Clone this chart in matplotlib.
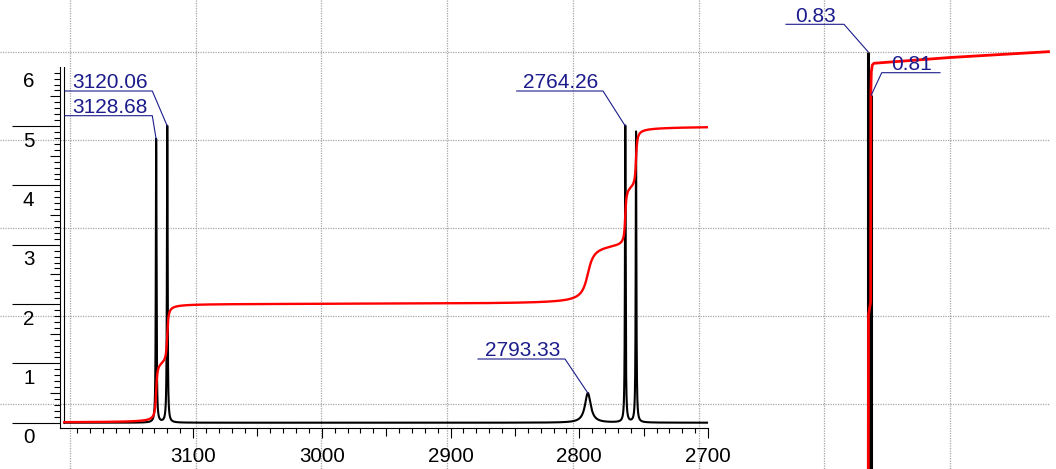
import matplotlib
matplotlib.use("Agg")
import matplotlib.pyplot as plt
import numpy as np
from matplotlib.lines import Line2D
from matplotlib.ticker import FixedLocator, FixedFormatter, NullFormatter
from matplotlib import transforms

plt.rcParams["font.family"] = ["Liberation Sans", "DejaVu Sans"]

# ---- spectrum peaks (wavenumber, height, half width) ----
peak_pos = [3128.68, 3120.06, 2793.33, 2764.26, 2755.9]
peak_height = [4.78, 5.0, 0.5, 5.0, 4.9]
peak_hwhm = [0.3, 0.3, 2.7, 0.3, 0.3]

# ---- integral (red) steps per peak ----
int_step = [1.0, 1.0, 1.0, 1.0, 1.0]
int_width = [0.7, 0.7, 3.5, 0.7, 0.7]

# ---- labelled peaks ----
ann_text = ["3120.06", "3128.68", "2764.26", "2793.33"]
ann_peak = [1, 0, 3, 2]

# ---- right fragment (ppm) ----
right_peak_ppm = [0.83, 0.81]
right_peak_top = [6.252, 5.522]
right_int_ppm = [0.8282, 0.8270, 0.8142, 0.8130, 0.8100, 0.8039, 0.7936, 0.3330, -0.2639]
right_int_val = [-0.965, 1.815, 2.034, 5.523, 5.910, 6.028, 6.057, 6.154, 6.252]
right_ann_text = ["0.83", "0.81"]

x_major = [3100, 3050, 3000, 2950, 2900, 2850, 2800, 2750, 2700]
x_labels = ["3100", "", "3000", "", "2900", "", "2800", "", "2700"]
y_labels = ["0", "1", "2", "3", "4", "5", "6"]

NAVY = "#1c1c8c"
GRID = "#a6a6a6"
W, H = 1056, 469

fig = plt.figure(figsize=(W / 100, H / 100), dpi=100)


def fx(x):
    return x / W


def fy(y):
    return 1 - y / H


# background dotted grid over the whole picture
bg = fig.add_axes([0, 0, 1, 1])
bg.set_xlim(0, W)
bg.set_ylim(H, 0)
bg.axis("off")
grid_x = 70 + 125.7 * np.arange(8)
grid_y = 52 + 88.1 * np.arange(5)
bg.vlines(grid_x, 0, H, colors=GRID, lw=0.9, linestyles=(0, (1, 1)))
bg.hlines(grid_y, 0, 1049, colors=GRID, lw=0.9, linestyles=(0, (1, 1)))

# main spectrum axes
ax = fig.add_axes([fx(59.7), fy(428), fx(708) - fx(59.7), (428 - 66.7) / H])
ax.set_facecolor("none")
ax.set_xlim(3203.6, 2700)
ax.set_ylim(-0.089, 6.0)
for s in ("top", "right"):
    ax.spines[s].set_visible(False)
for s in ("left", "bottom"):
    ax.spines[s].set_linewidth(0.8)

x = np.linspace(3200, 2700, 50001)
spec = np.zeros_like(x)
integ = np.zeros_like(x)
for p, h, w, st, iw in zip(peak_pos, peak_height, peak_hwhm, int_step, int_width):
    spec += h * w ** 2 / ((x - p) ** 2 + w ** 2)
    integ += st * (0.5 + np.arctan((p - x) / iw) / np.pi)

ax.plot([3200, 3200], [0, 6.0], color="black", lw=0.8)
ax.plot(x, spec, color="black", lw=1.5)
ax.plot(x, integ, color="#ff0000", lw=1.7)

# x ticks
ax.xaxis.set_major_locator(FixedLocator(x_major))
ax.xaxis.set_major_formatter(FixedFormatter(x_labels))
ax.xaxis.set_minor_locator(FixedLocator(np.arange(2710, 3200, 10)))
ax.tick_params(axis="x", which="major", length=7.5, width=0.8, labelsize=14.8, pad=6)
ax.tick_params(axis="x", which="minor", length=3.6, width=0.8)
for t, v in zip(ax.xaxis.get_major_ticks(), x_major):
    if v % 100:
        t.tick1line.set_markersize(5.5)

# y ticks (labels drawn by hand, they sit below their tick)
y_major = np.arange(0, 6.0, 0.5)
ax.yaxis.set_major_locator(FixedLocator(y_major))
ax.yaxis.set_major_formatter(NullFormatter())
ax.yaxis.set_minor_locator(FixedLocator(np.round(np.arange(0.1, 6.0, 0.1), 2)))
ax.tick_params(axis="y", which="major", length=34.6, width=0.8)
ax.tick_params(axis="y", which="minor", length=4, width=0.8)
for t, v in zip(ax.yaxis.get_major_ticks(), y_major):
    if v % 1:
        t.tick1line.set_markersize(7)

ytrans = transforms.blended_transform_factory(ax.transAxes, ax.transData) + \
    transforms.ScaledTranslation(-31 / 100, -15 / 100, fig.dpi_scale_trans)
for i, lab in enumerate(y_labels):
    ax.text(0, i, lab, transform=ytrans, ha="center", va="center", fontsize=14.8)

# right fragment
rax = fig.add_axes([fx(710), 0, fx(1056) - fx(710), 1])
rax.set_facecolor("none")
rax.set_xlim(1.7876, -0.3094)
rax.set_ylim(-0.780, 7.123)
rax.axis("off")
rax.vlines(right_peak_ppm, -2, right_peak_top, colors="black", lw=2.2)
rax.plot(right_int_ppm, right_int_val, color="#ff0000", lw=2.0)


def label(text, x0, x1, y, axes, peak_xy, from_right=True):
    inv = fig.transFigure.inverted()
    px, py = axes.transData.transform(peak_xy)
    pf = inv.transform((px, py))
    start, end = (x0, x1) if from_right else (x1, x0)
    xs = [fx(start), fx(end), pf[0]]
    ys = [fy(y), fy(y), pf[1]]
    fig.add_artist(Line2D(xs, ys, transform=fig.transFigure, color=NAVY, lw=0.8))
    fig.text(fx((x0 + x1) / 2 + 1), fy(y - 2.7), text, color=NAVY, fontsize=15,
             ha="center", va="baseline")


ann_lines = [(65, 152.3, 91), (65, 152.3, 115.7), (516.7, 603, 91), (478, 565, 359)]
for txt, k, (x0, x1, y) in zip(ann_text, ann_peak, ann_lines):
    label(txt, x0, x1, y, ax, (peak_pos[k], peak_height[k]))

label(right_ann_text[0], 786, 844, 24.3, rax, (right_peak_ppm[0], right_peak_top[0]))
label(right_ann_text[1], 881.7, 940, 72.7, rax, (right_peak_ppm[1], right_peak_top[1]),
      from_right=False)

fig.savefig("out.png", dpi=100)
